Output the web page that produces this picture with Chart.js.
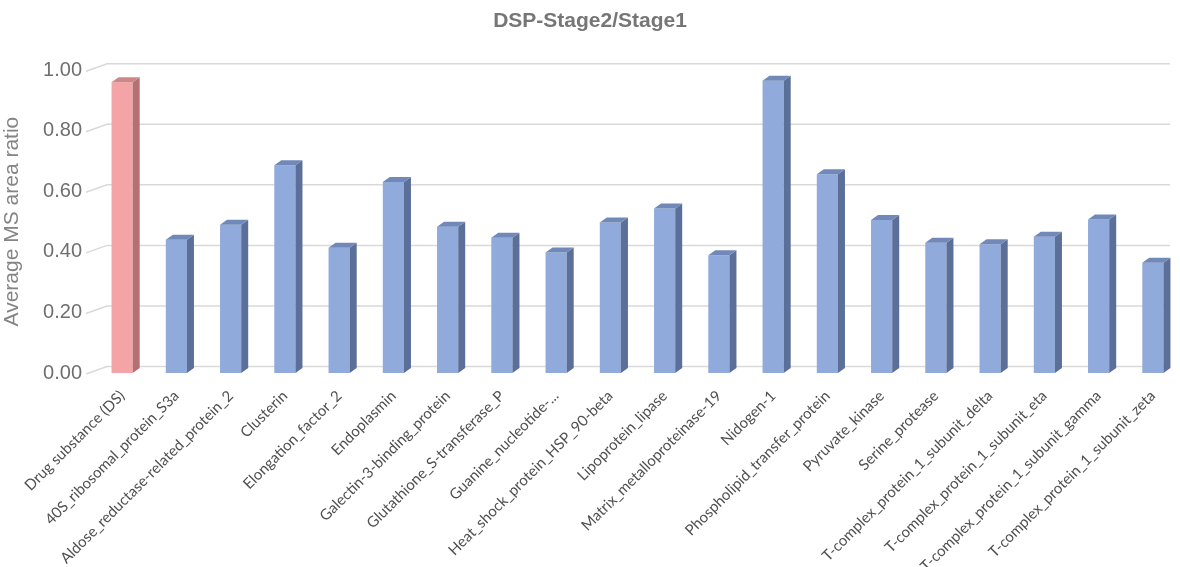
<!DOCTYPE html>
<html>
<head>
<meta charset="utf-8">
<script src="https://cdn.jsdelivr.net/npm/chart.js@4.4.1/dist/chart.umd.min.js"></script>
<style>
  html, body { margin: 0; padding: 0; background: #ffffff; }
  #wrap { width: 1180px; height: 567px; position: relative; }
</style>
</head>
<body>
<div id="wrap"><canvas id="c" width="1180" height="567"></canvas></div>
<script>
const chartTitle = 'DSP-Stage2/Stage1';
const yAxisTitle = 'Average MS area ratio';
const categories = [
  'Drug substance (DS)',
  '40S_ribosomal_protein_S3a',
  'Aldose_reductase-related_protein_2',
  'Clusterin',
  'Elongation_factor_2',
  'Endoplasmin',
  'Galectin-3-binding_protein',
  'Glutathione_S-transferase_P',
  'Guanine_nucleotide-...',
  'Heat_shock_protein_HSP_90-beta',
  'Lipoprotein_lipase',
  'Matrix_metalloproteinase-19',
  'Nidogen-1',
  'Phospholipid_transfer_protein',
  'Pyruvate_kinase',
  'Serine_protease',
  'T-complex_protein_1_subunit_delta',
  'T-complex_protein_1_subunit_eta',
  'T-complex_protein_1_subunit_gamma',
  'T-complex_protein_1_subunit_zeta'
];
const ratioValues = [0.96, 0.44, 0.49, 0.686, 0.414, 0.631, 0.483, 0.447, 0.398, 0.497,
                     0.543, 0.389, 0.965, 0.656, 0.505, 0.43, 0.425, 0.45, 0.507, 0.364];
const yTicks = [0, 0.2, 0.4, 0.6, 0.8, 1.0];

const PINK = {front: '#F4A3A6', side: '#B47173', top: '#CE8789'};
const BLUE = {front: '#8FAADB', side: '#5B6F98', top: '#7089B8'};
const pal = i => (i === 0 ? PINK : BLUE);

const DX = 7, DY = 5;       // bar depth
const GDX = 12, GDY = 6.5;  // back wall offset

const threeD = {
  id: 'threeD',
  beforeDatasetsDraw(chart) {
    const {ctx, chartArea, scales} = chart;
    const y = scales.y;
    ctx.save();
    ctx.strokeStyle = '#d9d9d9';
    ctx.lineWidth = 1.5;
    yTicks.forEach(v => {
      const py = y.getPixelForValue(v);
      ctx.beginPath();
      ctx.moveTo(chartArea.left - 9, py + 1);
      ctx.lineTo(chartArea.left + GDX, py - GDY);
      ctx.lineTo(chartArea.right - 10, py - GDY);
      ctx.stroke();
    });
    ctx.restore();
  },
  afterDatasetsDraw(chart) {
    const {ctx} = chart;
    const meta = chart.getDatasetMeta(0);
    ctx.save();
    meta.data.forEach((bar, i) => {
      const p = bar.getProps(['x', 'y', 'base', 'width'], true);
      const l = p.x - p.width / 2, r = p.x + p.width / 2;
      const c = pal(i);
      ctx.fillStyle = c.side;
      ctx.beginPath();
      ctx.moveTo(r, p.y);
      ctx.lineTo(r + DX, p.y - DY);
      ctx.lineTo(r + DX, p.base - DY);
      ctx.lineTo(r, p.base);
      ctx.closePath();
      ctx.fill();
      ctx.fillStyle = c.top;
      ctx.beginPath();
      ctx.moveTo(l, p.y);
      ctx.lineTo(l + DX, p.y - DY);
      ctx.lineTo(r + DX, p.y - DY);
      ctx.lineTo(r, p.y);
      ctx.closePath();
      ctx.fill();
    });
    ctx.restore();
  }
};

new Chart(document.getElementById('c'), {
  type: 'bar',
  data: {
    labels: categories,
    datasets: [{
      data: ratioValues,
      backgroundColor: ctx => pal(ctx.dataIndex).front,
      borderWidth: 0,
      barPercentage: 0.39,
      categoryPercentage: 1.0
    }]
  },
  options: {
    responsive: false,
    animation: false,
    layout: { padding: { left: 0, right: 0, top: 0, bottom: 0 } },
    plugins: {
      legend: { display: false },
      tooltip: { enabled: false },
      title: {
        display: true,
        text: chartTitle,
        color: '#767676',
        font: { family: 'Liberation Sans', size: 21, weight: 'bold' },
        padding: { top: 9, bottom: 36 }
      }
    },
    scales: {
      x: {
        grid: { display: false },
        border: { display: false },
        ticks: {
          autoSkip: false,
          minRotation: 45,
          maxRotation: 45,
          color: '#505050',
          font: { family: 'Lato', size: 15 },
          padding: 6
        },
        afterFit: s => { s.height = 194; }
      },
      y: {
        min: 0,
        max: 1,
        grid: { display: false },
        border: { display: false },
        afterBuildTicks: s => { s.ticks = yTicks.map(v => ({value: v})); },
        ticks: {
          color: '#6f6f6f',
          font: { family: 'Liberation Sans', size: 20 },
          padding: 5,
          callback: v => Number(v).toFixed(2)
        },
        title: {
          display: true,
          text: yAxisTitle,
          color: '#858585',
          font: { family: 'Liberation Sans', size: 21 },
          padding: { top: 0, bottom: 0 }
        },
        afterFit: s => { s.width = 95; }
      }
    }
  },
  plugins: [threeD]
});
</script>
</body>
</html>
